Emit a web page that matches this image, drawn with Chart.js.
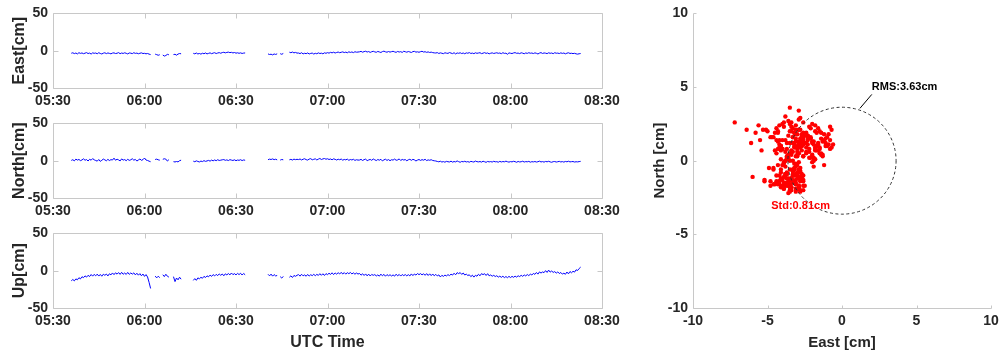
<!DOCTYPE html>
<html>
<head>
<meta charset="utf-8">
<script src="https://cdn.jsdelivr.net/npm/chart.js@4.4.1/dist/chart.umd.min.js"></script>
<style>
  html, body { margin: 0; padding: 0; background: #fff; overflow: hidden; }
  #wrap { position: relative; width: 1000px; height: 356px; }
  .pane { position: absolute; }
</style>
</head>
<body>
<div id="wrap">
  <div class="pane" style="left:0;top:0;width:640px;height:110px"><canvas id="cEast"></canvas></div>
  <div class="pane" style="left:0;top:110px;width:640px;height:110px"><canvas id="cNorth"></canvas></div>
  <div class="pane" style="left:0;top:220px;width:640px;height:136px"><canvas id="cUp"></canvas></div>
  <div class="pane" style="left:640px;top:0;width:360px;height:356px"><canvas id="cScatter"></canvas></div>
</div>
<script>
// GNSS positioning error, 05:36 - 08:23 UTC, one sample every 30 s (null = no fix)
const _ = null;
const sampleStartMin = 6;      // minutes after 05:30
const sampleStepMin = 0.5;
const timeLabels = ['05:30', '06:00', '06:30', '07:00', '07:30', '08:00', '08:30'];
const rmsCm = 3.63;
const stdCm = 0.81;

const eastCm = [
  // 05:36 - 06:02
  -3.4,-2.8,-3.9,-3.1,-4.3,-2.7,-3.6,-3.0,-4.0,-3.3,
  -2.6,-3.8,-3.2,-4.5,-2.9,-3.5,-3.1,-4.1,-2.7,-3.7,
  -4.4,-3.3,-2.8,-3.9,-3.0,-3.6,-4.2,-3.2,-2.9,-3.8,
  -3.4,-2.6,-4.0,-3.1,-3.7,-2.8,-3.5,-4.3,-3.0,-3.3,
  -3.9,-2.7,-3.6,-3.2,-4.1,-3.4,-2.9,-3.8,-3.5,-4.2,
  -3.7,-4.6,-5.2,
  _,_, -4.6,-5.3,-6.1,-5.4, _, -5.8,-7.2,-6.4,-4.9,-5.5, _,_, -5.2,-4.8,-6.0,-4.5,-3.8,-4.1,
  _,_,_,_,_,_,_,
  // 06:16 - 06:33
  -3.5,-4.2,-3.1,-4.4,-3.7,-4.6,-3.4,-4.1,-3.0,-4.3,
  -3.6,-2.9,-4.0,-3.2,-2.7,-3.8,-3.1,-2.6,-3.4,-2.5,
  -2.1,-2.9,-2.3,-1.9,-2.6,-2.2,-3.0,-2.4,-3.3,-2.8,
  -3.5,-2.9,-3.7,-3.2,-3.0,
  _,_,_,_,_,_,_,_,_,_,_,_,_,_,
  -4.3,-5.1,-4.7,-5.6,-4.4,-5.0,-4.2, _, -4.0,-4.8,-3.7, _,_,_,
  // 06:47:30 - 07:35
  -2.0,-2.7,-1.8,-2.9,-2.3,-3.2,
  -3.1,-3.9,-2.7,-4.3,-3.4,-4.0,-3.0,-4.4,-3.6,-3.2,
  -4.5,-3.5,-4.1,-2.9,-3.8,-3.3,-4.2,-2.8,-3.5,
  -2.6,-3.3,-2.2,-2.9,-2.0,-3.1,-2.4,-1.8,-2.7,-2.1,
  -1.6,-2.5,-1.9,-2.8,-1.5,-2.3,-1.7,-2.6,-1.4,-2.0,-1.8,
  -1.5,-0.9,-2.0,-1.2,-0.7,-1.8,-1.1,-2.3,-1.4,-0.8,
  -1.6,-2.1,-1.0,-1.7,-2.4,-1.2,-0.6,-1.5,-2.0,-1.1,
  -1.9,-1.3,-0.8,-1.6,-2.2,-1.0,-1.8,-1.3,-2.3,-0.7,
  -1.4,-2.0,-1.1,-1.7,-2.4,-1.2,-0.9,-1.9,-1.5,-2.1,
  -1.3,-0.8,-1.8,-1.4,-2.2,-1.6,-2.4,-1.9,-2.6,-2.9,
  // 07:35:30 - 08:23
  -3.1,-2.6,-3.7,-2.9,-3.4,-4.0,-2.8,-3.3,-3.6,-2.5,
  -3.2,-3.9,-2.7,-4.3,-3.0,-3.5,-2.8,-3.8,-3.1,-4.1,
  -2.9,-3.4,-2.6,-3.7,-3.2,-4.0,-2.8,-3.5,-3.1,-2.7,
  -3.9,-3.3,-2.6,-3.6,-3.0,-4.2,-3.4,-2.9,-3.7,-3.2,
  -2.8,-3.5,-3.1,-4.0,-2.7,-3.6,-3.3,-4.8,-2.9,-3.4,
  -3.8,-3.0,-2.6,-3.5,-3.2,-3.9,-2.8,-3.3,-4.1,-3.0,
  -3.6,-2.7,-3.4,-3.1,-3.8,-2.9,-3.5,-4.4,-3.2,-2.6,
  -3.7,-3.0,-3.3,-3.9,-2.8,-3.5,-3.1,-4.0,-2.7,-3.4,
  -3.2,-3.8,-2.9,-3.6,-3.1,-4.2,-3.3,-2.8,-3.7,-3.4,
  -3.9,-3.5,-4.2,-4.6,-4.1,-3.8
];

const northCm = [
  0.4,1.3,-0.2,2.1,0.8,1.7,0.1,1.0,2.5,0.6,
  1.5,-0.4,1.9,0.7,2.8,1.2,0.3,-0.6,1.6,-0.9,
  0.5,2.2,1.1,-0.1,1.8,0.2,1.4,0.9,3.4,0.6,
  2.0,1.1,-0.3,2.4,0.8,1.5,0.0,1.9,0.4,1.2,
  2.6,0.7,1.7,-0.5,1.0,2.3,0.5,1.4,3.6,0.9,
  0.3,-0.6,-1.4,
  _,_, 1.6,2.1,1.2,0.7, _, 1.9,2.6,2.1,-0.5,1.4, _,_, -1.3,-1.7,-1.1,-1.6,0.0,0.7,
  _,_,_,_,_,_,_,
  -0.6,-1.4,-0.2,-1.0,-1.7,-0.5,-1.2,0.1,-0.9,-0.3,
  0.4,-0.6,0.8,-0.2,1.0,0.0,1.3,0.3,0.7,1.2,
  1.5,0.5,1.1,0.2,1.4,0.8,0.3,1.2,0.0,0.9,
  0.5,1.3,0.2,1.0,0.6,
  _,_,_,_,_,_,_,_,_,_,_,_,_,_,
  1.3,2.1,1.6,2.4,1.4,2.0,1.1, _, 0.8,1.6,1.2, _,_,_,
  1.2,1.8,0.9,2.1,1.4,1.9,
  1.5,2.3,1.0,2.0,2.6,1.4,0.8,2.2,2.7,1.2,
  1.9,2.5,1.0,2.1,3.0,1.6,2.4,2.9,2.0,
  2.6,1.6,2.3,1.2,2.5,1.8,0.9,2.0,1.3,2.2,
  0.7,1.7,1.1,2.1,0.5,1.6,1.0,1.9,0.4,1.3,0.8,
  0.9,1.8,0.3,1.4,2.1,0.1,1.0,1.7,0.5,2.3,
  1.2,0.2,1.6,0.7,1.9,-0.3,1.1,2.0,0.4,1.5,
  0.0,1.3,0.8,2.2,0.6,1.0,2.4,0.3,1.7,0.9,
  1.5,-0.1,1.2,1.9,0.5,1.8,1.1,-0.4,0.8,1.6,
  0.4,1.4,0.7,1.9,0.2,1.1,0.6,1.3,0.3,-0.1,
  -0.4,-1.0,-1.5,-0.7,-1.8,-1.2,-2.0,-0.9,-1.4,-1.7,
  -0.6,-1.9,-1.1,-1.6,-0.3,-1.3,-2.1,-1.0,-1.5,-0.8,
  -1.7,-1.2,-2.0,-0.9,-1.4,-1.8,-0.5,-1.3,-1.6,-1.1,
  -1.9,-0.7,-1.4,-2.2,-1.0,-1.6,-1.2,-1.8,-0.8,-1.5,
  -1.3,-2.0,-0.9,-1.7,-1.1,-1.5,-0.6,-1.4,-1.9,-1.2,
  -1.6,-0.8,-1.3,-2.1,-1.0,-1.7,-1.4,-0.7,-1.8,-1.2,
  -1.5,-0.9,-2.0,-1.3,-1.6,-1.1,-1.8,-1.4,-0.6,-1.7,
  -1.2,-1.9,-1.0,-1.5,-0.8,-1.6,-2.1,-1.3,-1.1,-1.8,
  -1.4,-0.9,-1.7,-1.2,-1.9,-1.0,-1.5,-0.7,-1.6,-1.3,
  -1.1,-1.8,-1.4,-1.6,-1.2,-0.9
];

const upCm = [
  -13.5,-11.8,-13.6,-11.0,-12.2,-9.4,-11.0,-8.1,-9.3,-6.9,
  -8.6,-6.2,-7.8,-5.1,-7.3,-4.9,-6.9,-4.6,-7.2,-5.0,
  -7.4,-4.7,-6.2,-4.5,-7.0,-4.1,-5.6,-3.0,-5.3,-2.8,
  -4.6,-2.5,-4.9,-2.2,-4.8,-3.1,-5.0,-2.3,-4.9,-3.0,
  -4.6,-2.9,-5.6,-3.4,-6.0,-3.9,-6.8,-4.5,-7.6,-5.2,
  -8.4,-15.6,-23.8,
  _,_, -7.2,-9.6,-7.4,-9.3, _, -5.4,-7.9,-4.8,-7.4,-8.6, _,_, -8.0,-14.6,-9.8,-12.2,-8.7,-11.4,
  _,_,_,_,_,_,_,
  -13.0,-10.6,-12.9,-9.6,-10.8,-8.9,-10.1,-7.6,-9.1,-6.9,
  -8.2,-5.9,-7.6,-5.2,-7.0,-4.9,-6.6,-4.3,-6.2,-4.4,
  -6.8,-4.2,-5.6,-3.8,-5.6,-3.1,-5.3,-3.9,-5.6,-3.6,
  -5.2,-3.4,-5.8,-3.7,-5.5,
  _,_,_,_,_,_,_,_,_,_,_,_,_,_,
  -4.8,-6.9,-4.6,-7.3,-5.2,-7.0,-6.4, _, -8.0,-9.9,-7.6, _,_,_,
  -8.8,-6.9,-9.1,-6.4,-7.5,-6.2,
  -5.2,-7.3,-4.8,-6.9,-5.6,-7.4,-5.0,-7.2,-5.4,-6.6,
  -4.9,-6.7,-4.9,-6.3,-4.0,-6.2,-4.1,-6.4,-3.9,
  -5.3,-3.4,-5.0,-2.8,-5.2,-3.0,-4.6,-2.7,-4.4,-2.2,
  -4.5,-2.5,-4.6,-2.6,-4.0,-2.4,-4.3,-2.9,-4.7,-3.1,-4.5,
  -3.7,-6.0,-4.1,-6.4,-4.3,-6.9,-4.6,-7.1,-5.0,-6.2,
  -5.2,-7.0,-5.6,-7.3,-4.6,-6.9,-4.9,-7.4,-5.2,-6.8,
  -5.4,-7.1,-5.6,-7.3,-4.7,-6.9,-5.0,-7.2,-5.1,-6.6,
  -5.2,-6.9,-5.3,-7.0,-4.3,-6.6,-4.4,-5.9,-3.8,-5.3,
  -3.9,-5.6,-4.1,-6.2,-3.9,-6.4,-4.2,-6.6,-4.4,-6.9,
  -4.9,-7.0,-5.6,-8.4,
  -6.2,-7.6,-5.9,-7.0,-5.3,-6.6,-4.6,-5.9,-3.4,-5.5,-2.6,-3.9,
  -2.5,-5.0,-3.1,-5.8,-4.6,-6.4,-5.5,-8.0,-6.0,-8.6,
  -6.1,-7.4,-4.8,-6.8,-3.9,-5.3,
  -4.0,-6.4,-4.0,-6.9,-5.7,-7.4,-6.2,-7.8,-6.7,-8.6,-7.3,-8.9,-7.4,-9.3,-7.8,-9.4,-7.6,-9.2,
  -7.6,-8.9,-7.3,-8.6,-6.8,-7.9,-6.2,-7.6,-5.7,-7.0,-5.1,-6.6,-4.6,-5.8,-3.6,
  -4.9,-2.4,-4.6,-1.6,-3.2,-1.7,-2.6,0.1,-2.3,0.8,
  -1.9,-0.4,-2.3,-1.2,-3.2,-1.6,-3.8,-2.4,-4.6,-3.3,
  -4.8,-1.8,-4.2,-1.1,-2.8,-0.8,-1.9,1.2,0.3,2.9,4.8
];

const FONT = "'Liberation Sans', Arial, Helvetica, sans-serif";
const INK = '#262626';
const EDGE = '#c8c8c8';
Chart.defaults.font.family = FONT;
Chart.defaults.color = INK;

// MATLAB-like frame with inward tick marks
const matBox = {
  id: 'matBox',
  afterDraw(chart, args, o) {
    const { ctx, chartArea: a, scales: { x, y } } = chart;
    const L = Math.round(a.left) + 0.5, R = Math.round(a.right) + 0.5;
    const T = Math.round(a.top) + 0.5, B = Math.round(a.bottom) + 0.5;
    const len = o.len;
    ctx.save();
    ctx.strokeStyle = EDGE;
    ctx.lineWidth = 1;
    ctx.beginPath();
    ctx.moveTo(L, T); ctx.lineTo(L, B); ctx.lineTo(R, B);
    if (o.full) { ctx.lineTo(R, T); ctx.lineTo(L, T); }
    x.ticks.forEach(t => {
      const px = Math.round(x.getPixelForValue(t.value)) + 0.5;
      ctx.moveTo(px, B); ctx.lineTo(px, B - len);
      if (o.full) { ctx.moveTo(px, T); ctx.lineTo(px, T + len); }
    });
    y.ticks.forEach(t => {
      const py = Math.round(y.getPixelForValue(t.value)) + 0.5;
      ctx.moveTo(L, py); ctx.lineTo(L + len, py);
      if (o.full) { ctx.moveTo(R, py); ctx.lineTo(R - len, py); }
    });
    ctx.stroke();
    ctx.restore();
  }
};

const tickFont = { family: FONT, size: 14, weight: 'bold' };
const titleFont = { family: FONT, size: 16, weight: 'bold' };

function fixX(h) {
  return s => { s.height = h; s.paddingLeft = 0; s.paddingRight = 0; };
}

function timePanel(id, values, title, isBottom) {
  const pts = values.map((v, i) => ({ x: sampleStartMin + i * sampleStepMin, y: v }));
  return new Chart(document.getElementById(id), {
    type: 'line',
    data: {
      datasets: [{
        data: pts,
        borderColor: '#0000ff',
        borderWidth: 1,
        pointRadius: 0,
        tension: 0
      }]
    },
    options: {
      responsive: true,
      maintainAspectRatio: false,
      animation: false,
      layout: { padding: { top: 12, right: 38, left: 0, bottom: 0 } },
      plugins: {
        legend: { display: false },
        tooltip: { enabled: false },
        matBox: { full: true, len: 5 }
      },
      scales: {
        x: {
          type: 'linear', min: 0, max: 180,
          grid: { display: false, drawTicks: false },
          border: { display: false },
          ticks: {
            stepSize: 30, autoSkip: false, maxRotation: 0, padding: 5,
            font: tickFont, color: INK,
            callback: v => timeLabels[Math.round(v / 30)]
          },
          title: { display: isBottom, text: 'UTC Time', font: titleFont, color: INK, padding: { top: 0, bottom: 4 } },
          afterFit: fixX(isBottom ? 48 : 22)
        },
        y: {
          min: -50, max: 50,
          grid: { display: false, drawTicks: false },
          border: { display: false },
          ticks: { stepSize: 50, padding: 5, font: tickFont, color: INK },
          title: { display: true, text: title, font: titleFont, color: INK, padding: { top: 10, bottom: 0 } },
          afterFit: s => { s.width = 53; }
        }
      }
    },
    plugins: [matBox]
  });
}

timePanel('cEast', eastCm, 'East[cm]', false);
timePanel('cNorth', northCm, 'North[cm]', false);
timePanel('cUp', upCm, 'Up[cm]', true);

// horizontal scatter with RMS ring
const scatterPts = [];
eastCm.forEach((e, i) => {
  if (e !== null && northCm[i] !== null) scatterPts.push({ x: e, y: northCm[i] });
});

const rmsRing = {
  id: 'rmsRing',
  afterDatasetsDraw(chart) {
    const { ctx, scales: { x, y } } = chart;
    const cx = x.getPixelForValue(0), cy = y.getPixelForValue(0);
    const rx = Math.abs(x.getPixelForValue(rmsCm) - cx);
    const ry = Math.abs(y.getPixelForValue(rmsCm) - cy);
    ctx.save();
    ctx.strokeStyle = '#333';
    ctx.lineWidth = 1;
    ctx.setLineDash([3, 2.5]);
    ctx.beginPath();
    ctx.ellipse(cx, cy, rx, ry, 0, 0, Math.PI * 2);
    ctx.stroke();
    ctx.setLineDash([]);
    ctx.strokeStyle = '#000';
    ctx.beginPath();
    ctx.moveTo(x.getPixelForValue(2.0), y.getPixelForValue(4.5));
    ctx.lineTo(x.getPixelForValue(1.2), y.getPixelForValue(3.55));
    ctx.stroke();
    ctx.font = 'bold 11px ' + FONT;
    ctx.textAlign = 'center';
    ctx.textBaseline = 'middle';
    ctx.fillStyle = '#000';
    ctx.fillText('RMS:' + rmsCm.toFixed(2) + 'cm', x.getPixelForValue(4.2), y.getPixelForValue(5.0));
    ctx.fillStyle = '#ff0000';
    ctx.fillText('Std:' + stdCm.toFixed(2) + 'cm', x.getPixelForValue(-2.78), y.getPixelForValue(-3.04));
    ctx.restore();
  }
};

const sTitleFont = { family: FONT, size: 15, weight: 'bold' };
new Chart(document.getElementById('cScatter'), {
  type: 'scatter',
  data: {
    datasets: [{
      data: scatterPts,
      pointRadius: 2.2,
      pointBorderWidth: 0,
      backgroundColor: '#ff0000',
      borderColor: '#ff0000'
    }]
  },
  options: {
    responsive: true,
    maintainAspectRatio: false,
    animation: false,
    layout: { padding: { top: 12, right: 9, left: 0, bottom: 0 } },
    plugins: {
      legend: { display: false },
      tooltip: { enabled: false },
      matBox: { full: false, len: 3 }
    },
    scales: {
      x: {
        min: -10, max: 10,
        grid: { display: false, drawTicks: false },
        border: { display: false },
        ticks: { stepSize: 5, padding: 5, font: tickFont, color: INK },
        title: { display: true, text: 'East [cm]', font: sTitleFont, color: INK, padding: { top: 0, bottom: 4 } },
        afterFit: fixX(48)
      },
      y: {
        min: -10, max: 10,
        grid: { display: false, drawTicks: false },
        border: { display: false },
        ticks: { stepSize: 5, padding: 5, font: tickFont, color: INK },
        title: { display: true, text: 'North [cm]', font: sTitleFont, color: INK, padding: { top: 11, bottom: 0 } },
        afterFit: s => { s.width = 53; }
      }
    }
  },
  plugins: [matBox, rmsRing]
});
</script>
</body>
</html>
